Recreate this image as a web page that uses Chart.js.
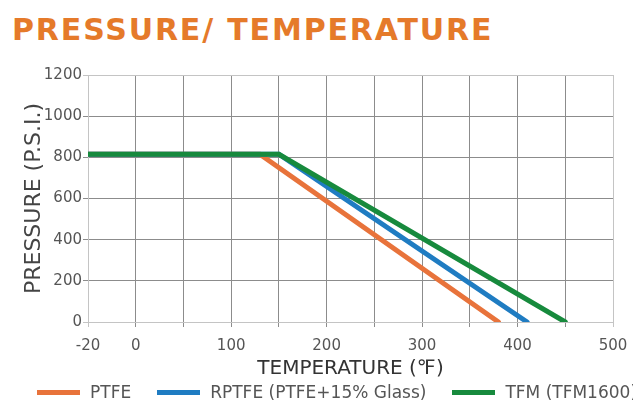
<!DOCTYPE html>
<html lang="en">
<head>
    <meta charset="UTF-8">
    <title>Pressure / Temperature</title>
    <script src="https://cdn.jsdelivr.net/npm/chart.js"></script>
    <style>
        body {
            margin: 0;
            background: #fff;
            width: 633px;
            height: 401px;
            overflow: hidden;
            position: relative;
            font-family: "DejaVu Sans", sans-serif;
        }

        .title {
            position: absolute;
            left: 12px;
            top: 15px;
            font-size: 30px;
            line-height: 30px;
            font-weight: bold;
            letter-spacing: 1.85px;
            color: #e57a2a;
            white-space: nowrap;
        }

        #chartBox {
            position: absolute;
            left: 0;
            top: 0;
            width: 633px;
            height: 401px;
        }

        .legend {
            position: absolute;
            left: 37px;
            top: 383px;
            display: flex;
            align-items: center;
            white-space: nowrap;
            font-size: 17px;
            line-height: 18px;
            color: #555;
        }

        .legend span.sw {
            display: inline-block;
            width: 43px;
            height: 5px;
            margin-right: 10px;
        }

        .legend .item {
            display: flex;
            align-items: center;
            margin-right: 26px;
        }
    </style>
</head>
<body>
    <div class="title">PRESSURE/ TEMPERATURE</div>
    <div id="chartBox"><canvas id="myChart" width="633" height="401"></canvas></div>
    <div class="legend" id="legend"></div>

    <script>
        // values
        const seriesNames = ['PTFE', 'RPTFE (PTFE+15% Glass)', 'TFM (TFM1600)'];
        const seriesColors = ['#e8733b', '#1f7cc2', '#178a3d'];

        const ptfeTemp = [-20, 130, 380];
        const ptfePress = [815, 815, 0];
        const rptfeTemp = [-20, 150, 410];
        const rptfePress = [815, 815, 0];
        const tfmTemp = [-20, 150, 450];
        const tfmPress = [815, 815, 0];

        const xTickLabels = [-20, 0, 100, 200, 300, 400, 500];

        // the x axis in the picture gives -20..0 the same width as one 50 degree cell
        function axisPos(t) {
            return t < 0 ? t * 2.5 : t;
        }

        function toPoints(temps, press) {
            return temps.map((t, i) => ({ x: axisPos(t), y: press[i] }));
        }

        const temps = [ptfeTemp, rptfeTemp, tfmTemp];
        const press = [ptfePress, rptfePress, tfmPress];

        const datasets = seriesNames.map((name, i) => ({
            label: name,
            data: toPoints(temps[i], press[i]),
            borderColor: seriesColors[i],
            borderWidth: 5,
            borderCapStyle: 'round',
            pointRadius: 0,
            fill: false,
            order: seriesNames.length - i
        }));

        const edgeGrid = '#c4c4c4';
        const innerGrid = '#8c8c8c';

        const ctx = document.getElementById('myChart').getContext('2d');
        const myChart = new Chart(ctx, {
            type: 'line',
            data: { datasets: datasets },
            options: {
                responsive: false,
                animation: false,
                layout: {
                    padding: { left: 0, right: 20, top: 75, bottom: 0 }
                },
                plugins: {
                    legend: { display: false },
                    tooltip: { enabled: false }
                },
                scales: {
                    x: {
                        type: 'linear',
                        min: axisPos(xTickLabels[0]),
                        max: xTickLabels[xTickLabels.length - 1],
                        afterFit: (scale) => {
                            scale.height = 79;
                            scale.paddingRight = 0;
                            scale.paddingLeft = 0;
                        },
                        ticks: {
                            stepSize: 50,
                            autoSkip: false,
                            maxRotation: 0,
                            padding: 10,
                            color: '#555',
                            font: { family: 'DejaVu Sans', size: 15 },
                            callback: (v) => {
                                const lab = xTickLabels.find(t => axisPos(t) === v);
                                return lab === undefined ? '' : String(lab);
                            }
                        },
                        grid: {
                            color: (c) => (c.index === 0 || c.tick.value === 500) ? edgeGrid : innerGrid,
                            tickLength: 5
                        },
                        border: { color: edgeGrid },
                        title: {
                            display: true,
                            text: 'TEMPERATURE (\u2109)',
                            color: '#333',
                            font: { family: 'DejaVu Sans', size: 20 },
                            padding: { top: 0, bottom: 20 }
                        }
                    },
                    y: {
                        min: 0,
                        max: 1200,
                        afterFit: (scale) => { scale.width = 88; },
                        ticks: {
                            stepSize: 200,
                            padding: 1,
                            color: '#555',
                            font: { family: 'DejaVu Sans', size: 15 },
                            callback: (v) => String(v)
                        },
                        grid: {
                            color: (c) => (c.tick.value === 0 || c.tick.value === 1200) ? edgeGrid : innerGrid,
                            tickLength: 5
                        },
                        border: { color: edgeGrid },
                        title: {
                            display: true,
                            text: 'PRESSURE (P.S.I.)',
                            color: '#444',
                            font: { family: 'DejaVu Sans', size: 22 },
                            padding: { top: 21, bottom: 0 }
                        }
                    }
                }
            }
        });

        // legend built from the same series arrays
        const legend = document.getElementById('legend');
        seriesNames.forEach((name, i) => {
            const item = document.createElement('div');
            item.className = 'item';
            const sw = document.createElement('span');
            sw.className = 'sw';
            sw.style.background = seriesColors[i];
            const txt = document.createElement('span');
            txt.textContent = name;
            item.appendChild(sw);
            item.appendChild(txt);
            legend.appendChild(item);
        });
    </script>
</body>
</html>
